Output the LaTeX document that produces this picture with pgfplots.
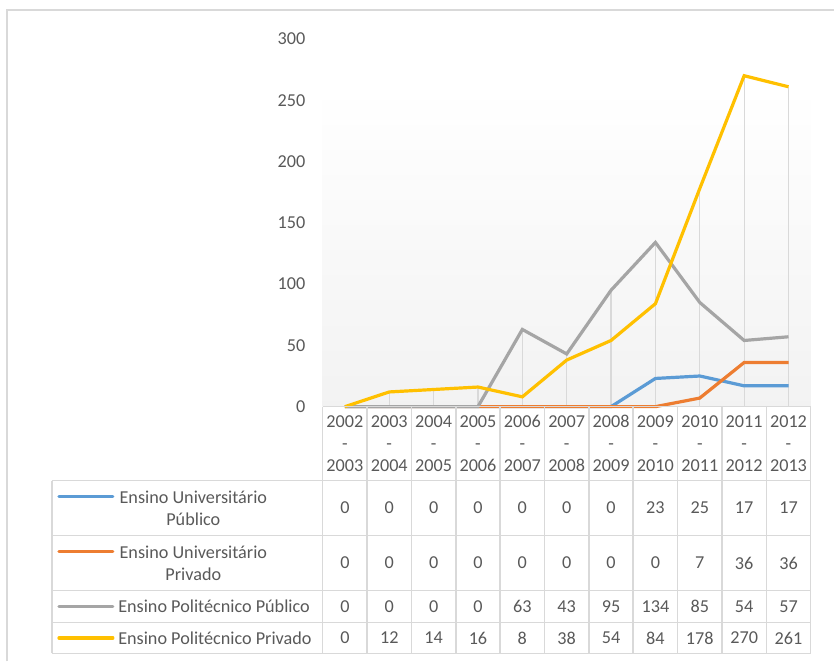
\documentclass[border=0pt]{standalone}
\usepackage{pgfplots}
\pgfplotsset{compat=1.18}
\usepackage{fontspec}
\setmainfont{Carlito}
\definecolor{cBlue}{HTML}{5B9BD5}
\definecolor{cOrange}{HTML}{ED7D31}
\definecolor{cGray}{HTML}{A5A5A5}
\definecolor{cGold}{HTML}{FFC000}
\definecolor{cGrid}{HTML}{D9D9D9}
\definecolor{txt}{HTML}{595959}
\begin{document}
\fontsize{9.1}{11}\selectfont
\begin{tikzpicture}
\begin{scope}[x=0.5pt,y=-0.5pt]
  \path (0,0) rectangle (835,662);
  \draw[cGrid, line width=0.75pt] (7,662) -- (7,10) -- (835,10);
  \shade[top color=white, bottom color=black!5] (323,87) rectangle (811.4,407);
\end{scope}
\begin{axis}[
  at={(161.5pt,-203.5pt)}, anchor=south west,
  scale only axis, width=244.2pt, height=184pt,
  xmin=-0.5, xmax=10.5, ymin=0, ymax=300,
  axis line style={draw=none},
  xtick=\empty,
  ytick={0,50,...,300},
  major tick length=0pt,
  /pgf/number format/assume math mode=true,
  yticklabel style={anchor=east, inner sep=0pt, xshift=-8.5pt, text=txt, font=\fontsize{9.1}{11}\selectfont},
  clip=false,
]
\addplot[ycomb, draw=cGrid, line width=0.6pt, mark=none] coordinates {(0,0)(1,12)(2,14)(3,16)(4,63)(5,43)(6,95)(7,134)(8,178)(9,270)(10,261)};
\addplot[cBlue, line width=1.6pt, mark=none] coordinates {(0,0)(1,0)(2,0)(3,0)(4,0)(5,0)(6,0)(7,23)(8,25)(9,17)(10,17)};
\addplot[cOrange, line width=1.6pt, mark=none] coordinates {(0,0)(1,0)(2,0)(3,0)(4,0)(5,0)(6,0)(7,0)(8,7)(9,36)(10,36)};
\addplot[cGray, line width=1.6pt, mark=none] coordinates {(0,0)(1,0)(2,0)(3,0)(4,63)(5,43)(6,95)(7,134)(8,85)(9,54)(10,57)};
\addplot[cGold, line width=1.6pt, mark=none] coordinates {(0,0)(1,12)(2,14)(3,16)(4,8)(5,38)(6,54)(7,84)(8,178)(9,270)(10,261)};
\end{axis}
\begin{scope}[x=0.5pt,y=-0.5pt]
  % table grid
  \draw[cGrid, line width=0.75pt] (323,407) -- (811.4,407);
  \foreach \y in {481,536,591,623,654} \draw[cGrid, line width=0.75pt] (52,\y) -- (811.4,\y);
  \draw[cGrid, line width=0.75pt] (52,481) -- (52,654);
  \foreach \i in {0,...,11} \draw[cGrid, line width=0.75pt] ({323+44.4*\i},407) -- ({323+44.4*\i},654);
  % header
  \foreach \a [count=\i from 0] in {2002,2003,2004,2005,2006,2007,2008,2009,2010,2011,2012} {
    \pgfmathtruncatemacro{\b}{\a+1}
    \node[text=txt, align=center, inner sep=0pt] at ({345.2+44.4*\i},444) {\a\\-\\\b};
  }
  % legend keys
  \draw[cBlue, line width=1.6pt, line cap=round] (59,497) -- (113,497);
  \draw[cOrange, line width=1.6pt, line cap=round] (59,552) -- (113,552);
  \draw[cGray, line width=1.6pt, line cap=round] (59,607) -- (113,607);
  \draw[cGold, line width=1.6pt, line cap=round] (59,638.5) -- (113,638.5);
  \node[text=txt, align=center, inner sep=0pt] at (193.5,508.5) {Ensino Universitário\\Público};
  \node[text=txt, align=center, inner sep=0pt] at (193.5,563.5) {Ensino Universitário\\Privado};
  \node[text=txt, anchor=west, inner sep=0pt] at (118,607) {Ensino Politécnico Público};
  \node[text=txt, anchor=west, inner sep=0pt] at (118,638.5) {Ensino Politécnico Privado};
  % values
  \foreach \v [count=\i from 0] in {0,0,0,0,0,0,0,23,25,17,17}
    \node[text=txt, inner sep=0pt] at ({345.2+44.4*\i},508.5) {\v};
  \foreach \v [count=\i from 0] in {0,0,0,0,0,0,0,0,7,36,36}
    \node[text=txt, inner sep=0pt] at ({345.2+44.4*\i},563.5) {\v};
  \foreach \v [count=\i from 0] in {0,0,0,0,63,43,95,134,85,54,57}
    \node[text=txt, inner sep=0pt] at ({345.2+44.4*\i},607) {\v};
  \foreach \v [count=\i from 0] in {0,12,14,16,8,38,54,84,178,270,261}
    \node[text=txt, inner sep=0pt] at ({345.2+44.4*\i},638.5) {\v};
\end{scope}
\end{tikzpicture}
\end{document}
